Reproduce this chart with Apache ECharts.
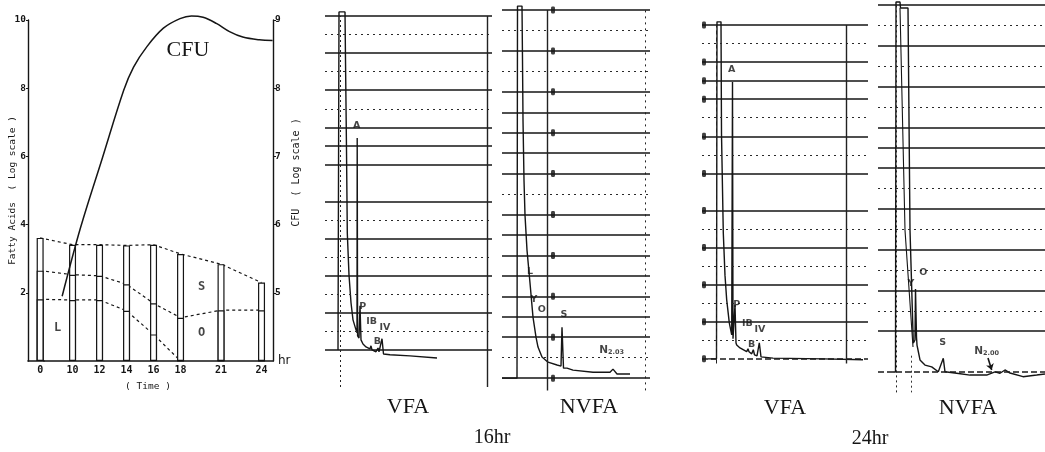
<!DOCTYPE html>
<html><head><meta charset="utf-8">
<script src="https://cdn.jsdelivr.net/npm/echarts@6/dist/echarts.min.js"></script>
<style>html,body{margin:0;padding:0;background:#fff}#wrap{position:relative;width:1045px;height:452px}#right{position:absolute;left:0;top:0;width:1045px;height:452px}#left{position:absolute;left:0;top:0;width:320px;height:452px;z-index:2}</style>
</head><body><div id="wrap"><div id="right"></div><div id="left"></div></div>
<script>
// ---------- Left panel: fatty acids (L / O / S) and CFU ----------
const hours = [0, 10, 12, 14, 16, 18, 21, 24];
const levelL = [1.81, 1.79, 1.79, 1.47, 0.78, 0, 0, 0];          // top of L
const levelO = [2.65, 2.53, 2.50, 2.25, 1.69, 1.27, 1.49, 1.49];  // top of O
const levelS = [3.61, 3.41, 3.41, 3.39, 3.41, 3.14, 2.84, 2.30];  // total (top of S)
const faTicks = [2, 4, 6, 8, 10];
const cfuTicks = [5, 6, 7, 8, 9];
const cfuTime = [9.23, 10.60, 12.20, 13.79, 14.52, 15.51, 16.73, 17.96, 18.81, 19.67, 20.65, 21.63, 22.61, 23.84, 24.82];
const cfuLog  = [4.95, 5.96, 6.97, 7.97, 8.31, 8.61, 8.88, 9.02, 9.06, 9.04, 8.95, 8.83, 8.75, 8.71, 8.70];
const segNames = ['L', 'S', 'O'];
const segTime  = [8.9, 19.57, 19.57];
const segLevel = [0.97, 2.17, 0.82];

// ---------- Chromatograms (retention time, detector response) ----------
const vfa16T = [1.3,1.4,2.0,2.05,2.15,2.23,2.4,2.6,2.8,3.1,3.2,3.22,3.26,3.4,3.5,3.6,3.8,4.1,4.5,4.6,4.7,5.1,5.3,5.4,5.6,5.7,5.85,6.5,8.5,11.2];
const vfa16S = [0,9.11,9.11,7.82,5.39,3.15,2.02,1.27,0.81,0.54,0.46,5.71,0.38,0.32,1.19,0.27,0.16,0.08,0.03,0.11,0,-0.05,0.05,-0.05,-0.05,0.30,-0.11,-0.13,-0.16,-0.22];
const vfa16Solid = [0,1,2,3,4,5,5.5,6,7,8,9];
const vfa16Dotted = [0.5,1.5,2.5,3.5,6.5,7.5,8.5];
const vfa16PeakNames = ['A','P','IB','B','IV'];
const vfa16PeakT = [3.17,3.77,4.67,5.23,6.0];
const vfa16PeakH = [6.04,1.17,0.76,0.22,0.60];

const nvfa16T = [0,1.5,1.55,2.0,2.05,2.1,2.2,2.3,2.5,2.8,3.1,3.4,3.6,4.0,4.6,5.5,5.9,6.0,6.15,6.5,7.1,9.1,10.8,11.1,11.5,12.8];
const nvfa16S = [0,0,18.19,18.19,15.55,12.62,9.68,7.97,6.26,4.65,2.98,2.0,1.52,1.03,0.78,0.64,0.59,2.49,0.49,0.49,0.39,0.29,0.29,0.44,0.20,0.20];
const nvfa16Solid = [0,2,3,4,5,6,7,8,10,11,12,13,14,16,18];
const nvfa16Dotted = [1,9,15,17];
const nvfa16Marks = [0,2,4,6,8,10,12,14,16,18];
const nvfa16PeakNames = ['L','Y','O','S','N2.03'];
const nvfa16PeakT = [2.8,3.2,3.97,6.2,10.97];
const nvfa16PeakH = [5.2,3.86,3.37,3.13,1.37];

const vfa24T = [0.6,1.45,1.5,1.9,1.95,2.13,2.3,2.47,2.73,2.97,3.03,3.05,3.1,3.3,3.4,3.47,3.8,4.47,4.6,4.7,4.97,5.13,5.25,5.5,5.73,5.9,7.1,12.1,16.1];
const vfa24S = [0,0,18.17,18.17,12.13,6.79,4.5,3.18,1.94,1.29,1.19,14.93,1.08,2.91,0.86,0.75,0.59,0.39,0.54,0.38,0.27,0.49,0.22,0.16,0.86,0.11,0.04,0,-0.05];
const vfa24Solid = [2,4,6,8,10,12,14,15,16,18];
const vfa24Dashed = [0];
const vfa24Dotted = [1,3,5,7,11,13,17];
const vfa24Marks = [0,2,4,6,8,10,12,14,15,16,18];
const vfa24PeakNames = ['A','P','IB','B','IV'];
const vfa24PeakT = [2.97,3.47,4.53,4.97,5.8];
const vfa24PeakH = [15.58,2.91,1.89,0.79,1.6];

const nvfa24T = [1.5,1.75,1.8,2.2,2.25,3.0,3.2,3.53,3.7,3.75,3.85,3.9,4.0,4.2,4.7,5.37,6.03,6.53,6.7,7.87,9.2,10.87,11.7,12.2,12.7,13.2,14.5,15.87,16.7];
const nvfa24S = [0,0,18.15,18.15,17.85,17.85,6.96,1.42,1.57,4.07,1.72,1.32,1.08,0.59,0.34,0.25,0.01,0.67,0.01,-0.06,-0.15,-0.15,0.01,-0.06,0.10,-0.05,-0.23,-0.15,-0.1];
const nvfa24ShoulderT = [2.2, 2.7, 3.5];
const nvfa24ShoulderS = [17.85, 6.96, 1.23];
const nvfa24Solid = [2,4,6,8,10,11,12,14,16,18];
const nvfa24Dashed = [0];
const nvfa24Dotted = [3,5,7,9,13,15,17];
const nvfa24PeakNames = ['Y','O','S','N2.00'];
const nvfa24PeakT = [3.3,4.53,6.47,10.87];
const nvfa24PeakH = [4.36,4.87,1.44,1.0];

const INK = '#151515';
const MONO = 'DejaVu Sans Mono';
const SERIF = 'Liberation Serif';
const zip = (a, b) => a.map((v, i) => [v, b[i]]);

// ---------------- left chart (own instance: axis break on time) ----------------
const barStyle = {color: '#fff', borderColor: INK, borderWidth: 1.2};
const dashStyle = {type: [3, 3], width: 1.2, color: INK};
const leftOption = {
  animation: false,
  grid: {left: 27, top: 20, width: 246, height: 341},
  xAxis: {
    type: 'value', min: -0.9, max: 24.85,
    breaks: [{start: 0.3, end: 7.9, gap: 0}],
    breakArea: {show: false},
    axisLine: {onZero: false, lineStyle: {color: INK, width: 1.6}},
    axisTick: {show: false}, splitLine: {show: false},
    axisLabel: {customValues: hours, fontFamily: MONO, fontWeight: 'bold', fontSize: 10, color: INK, margin: 4},
    name: 'hr', nameLocation: 'end', nameGap: 5,
    nameTextStyle: {fontFamily: 'DejaVu Sans', fontSize: 12, color: INK, verticalAlign: 'middle', padding: [0, 0, 4, 0]}
  },
  yAxis: [{
    type: 'value', min: 0, max: 10, position: 'left',
    axisLine: {show: true, onZero: false, lineStyle: {color: INK, width: 1.4}},
    axisTick: {show: true, customValues: faTicks, length: 2, lineStyle: {color: INK}},
    splitLine: {show: false},
    axisLabel: {customValues: faTicks, fontFamily: MONO, fontWeight: 'bold', fontSize: 9.5, color: INK, margin: 2},
    name: 'Fatty Acids  ( Log scale )', nameLocation: 'middle', nameGap: 10, nameRotate: 90, nameMoveOverlap: false,
    nameTextStyle: {fontFamily: MONO, fontSize: 9.5, color: INK}
  }, {
    type: 'value', min: 4, max: 9, position: 'right',
    axisLine: {show: true, onZero: false, lineStyle: {color: INK, width: 1.4}},
    axisTick: {show: true, customValues: cfuTicks, length: 3, lineStyle: {color: INK}},
    splitLine: {show: false},
    axisLabel: {customValues: cfuTicks, fontFamily: MONO, fontWeight: 'bold', fontSize: 9.5, color: INK, margin: 2},
    name: 'CFU  ( Log scale )', nameLocation: 'middle', nameGap: 18, nameRotate: 90,
    nameTextStyle: {fontFamily: MONO, fontSize: 10, color: INK, padding: [0, 0, 0, 36]}
  }],
  series: [
    {type: 'bar', barWidth: 7, barGap: '-100%', z: 3, itemStyle: barStyle, data: zip(hours, levelS)},
    {type: 'bar', barWidth: 7, barGap: '-100%', z: 3, itemStyle: barStyle, data: zip(hours, levelO)},
    {type: 'bar', barWidth: 7, barGap: '-100%', z: 3, itemStyle: barStyle, data: zip(hours, levelL)},
    {type: 'line', symbol: 'none', z: 2, lineStyle: dashStyle, data: zip(hours, levelS)},
    {type: 'line', symbol: 'none', z: 2, lineStyle: dashStyle, data: zip(hours, levelO)},
    {type: 'line', symbol: 'none', z: 2, lineStyle: dashStyle,
     data: zip(hours, levelL).filter((p, i) => levelL[i] > 0 || (i > 0 && levelL[i - 1] > 0))},
    {type: 'line', yAxisIndex: 1, symbol: 'none', smooth: 0.35, clip: false, z: 4,
     lineStyle: {width: 1.5, color: INK}, data: zip(cfuTime, cfuLog)},
    {type: 'scatter', symbolSize: 1, itemStyle: {color: 'rgba(0,0,0,0)'}, z: 5,
     label: {show: true, position: 'inside', formatter: '{b}', fontFamily: MONO, fontWeight: 'bold', fontSize: 12, color: INK},
     data: segNames.map((n, i) => ({name: n, value: [segTime[i], segLevel[i]]}))}
  ]
};

// ---------------- chromatogram panels ----------------
const panels = [
  { grid: {left: 325, top: 16, width: 167, height: 371}, xMax: 16.7, yMin: -1, yMax: 9,
    t: vfa16T, s: vfa16S, solid: vfa16Solid, dotted: vfa16Dotted, dashed: [],
    vert: [{x: 1.5, type: [2, 3]}, {x: 16.2, type: 'solid'}],
    names: vfa16PeakNames, pt: vfa16PeakT, ph: vfa16PeakH },
  { grid: {left: 502, top: 10, width: 148, height: 380.4}, xMax: 14.8, yMin: -0.6, yMax: 18,
    t: nvfa16T, s: nvfa16S, solid: nvfa16Solid, dotted: nvfa16Dotted, dashed: [],
    vert: [{x: 4.5, type: 'solid'}, {x: 14.3, type: [2, 4]}],
    marks: {x: 5.1, y: nvfa16Marks},
    names: nvfa16PeakNames, pt: nvfa16PeakT, ph: nvfa16PeakH },
  { grid: {left: 702, top: 25, width: 166, height: 338.5}, xMax: 16.6, yMin: -0.25, yMax: 18,
    t: vfa24T, s: vfa24S, solid: vfa24Solid, dotted: vfa24Dotted, dashed: vfa24Dashed,
    vert: [{x: 1.47, type: [4, 3]}, {x: 14.47, type: 'solid'}],
    marks: {x: 0.2, y: vfa24Marks},
    names: vfa24PeakNames, pt: vfa24PeakT, ph: vfa24PeakH },
  { grid: {left: 878, top: 5, width: 167, height: 387.4}, xMax: 16.7, yMin: -1, yMax: 18,
    t: nvfa24T, s: nvfa24S, solid: nvfa24Solid, dotted: nvfa24Dotted, dashed: nvfa24Dashed,
    vert: [{x: 1.87, type: [2, 3]}, {x: 3.37, type: [2, 3], from: 0.8, to: -1}],
    extra: {t: nvfa24ShoulderT, s: nvfa24ShoulderS},
    arrow: [[11.0, 0.69], [11.37, 0.1]],
    names: nvfa24PeakNames, pt: nvfa24PeakT, ph: nvfa24PeakH }
];

const grids = [], xAxes = [], yAxes = [], series = [];
panels.forEach((p, gi) => {
  grids.push(p.grid);
  xAxes.push({gridIndex: gi, type: 'value', min: 0, max: p.xMax, show: false});
  yAxes.push({gridIndex: gi, type: 'value', min: p.yMin, max: p.yMax, show: false});
  const ml = [];
  p.solid.forEach(v => ml.push({yAxis: v, lineStyle: {type: 'solid', width: 1.7, color: '#141414'}}));
  p.dotted.forEach(v => ml.push({yAxis: v, lineStyle: {type: [2, 4], width: 1.1, color: '#2a2a2a'}}));
  p.dashed.forEach(v => ml.push({yAxis: v, lineStyle: {type: [6, 3], width: 1.5, color: '#1a1a1a'}}));
  p.vert.forEach(v => {
    if (v.from !== undefined) {
      ml.push([{coord: [v.x, v.from], lineStyle: {type: v.type, width: 1, color: '#333'}}, {coord: [v.x, v.to]}]);
    } else {
      ml.push({xAxis: v.x, lineStyle: {type: v.type, width: v.type === 'solid' ? 1.4 : 1, color: '#222'}});
    }
  });
  if (p.arrow) {
    ml.push([{coord: p.arrow[0], symbol: 'none', lineStyle: {type: 'solid', width: 1.6, color: INK}},
             {coord: p.arrow[1], symbol: 'arrow', symbolSize: 6}]);
  }
  series.push({
    type: 'line', xAxisIndex: gi, yAxisIndex: gi, symbol: 'none', clip: false, z: 3,
    lineStyle: {width: 1.4, color: INK}, data: zip(p.t, p.s),
    markLine: {silent: true, symbol: ['none', 'none'], label: {show: false}, animation: false, data: ml}
  });
  if (p.extra) {
    series.push({type: 'line', xAxisIndex: gi, yAxisIndex: gi, symbol: 'none', clip: false, z: 3,
      lineStyle: {width: 1.1, color: INK}, data: zip(p.extra.t, p.extra.s)});
  }
  if (p.marks) {
    series.push({type: 'scatter', xAxisIndex: gi, yAxisIndex: gi, symbol: 'roundRect', symbolSize: [4, 7], z: 4,
      itemStyle: {color: '#111'}, data: p.marks.y.map(y => [p.marks.x, y])});
  }
  series.push({type: 'scatter', xAxisIndex: gi, yAxisIndex: gi, symbolSize: 1, z: 5,
    itemStyle: {color: 'rgba(0,0,0,0)'},
    label: {show: true, position: 'inside', color: INK,
      formatter: d => d.name.length > 2 && d.name[0] === 'N' ? '{n|N}{s|' + d.name.slice(1) + '}' : '{m|' + d.name + '}',
      rich: {m: {fontFamily: 'DejaVu Sans', fontWeight: 'bold', fontSize: 9.5, color: INK},
             n: {fontFamily: 'DejaVu Sans', fontWeight: 'bold', fontSize: 10.5, color: INK},
             s: {fontFamily: 'DejaVu Sans', fontWeight: 'bold', fontSize: 6.5, color: INK, padding: [4, 0, 0, 0]}}},
    data: p.names.map((n, i) => ({name: n, value: [p.pt[i], p.ph[i]]}))});
});

const txt = (text, x, y, size, family) => ({type: 'text', x: x, y: y, silent: true,
  style: {text: text, font: size + 'px "' + family + '"', fill: INK, align: 'center', verticalAlign: 'middle'}});

const rightChart = echarts.init(document.getElementById('right'));
rightChart.setOption({
  animation: false, backgroundColor: '#fff',
  grid: grids, xAxis: xAxes, yAxis: yAxes, series: series,
  graphic: [
    txt('CFU', 188, 50, 22, SERIF),
    txt('( Time )', 148, 387, 9.5, MONO),
    txt('VFA', 408, 407, 22, SERIF),
    txt('NVFA', 589, 407, 22, SERIF),
    txt('16hr', 492, 438, 20, SERIF),
    txt('VFA', 785, 408, 22, SERIF),
    txt('NVFA', 968, 408, 22, SERIF),
    txt('24hr', 870, 439, 20, SERIF)
  ]
});
const leftChart = echarts.init(document.getElementById('left'));
leftChart.setOption(leftOption);
</script></body></html>
